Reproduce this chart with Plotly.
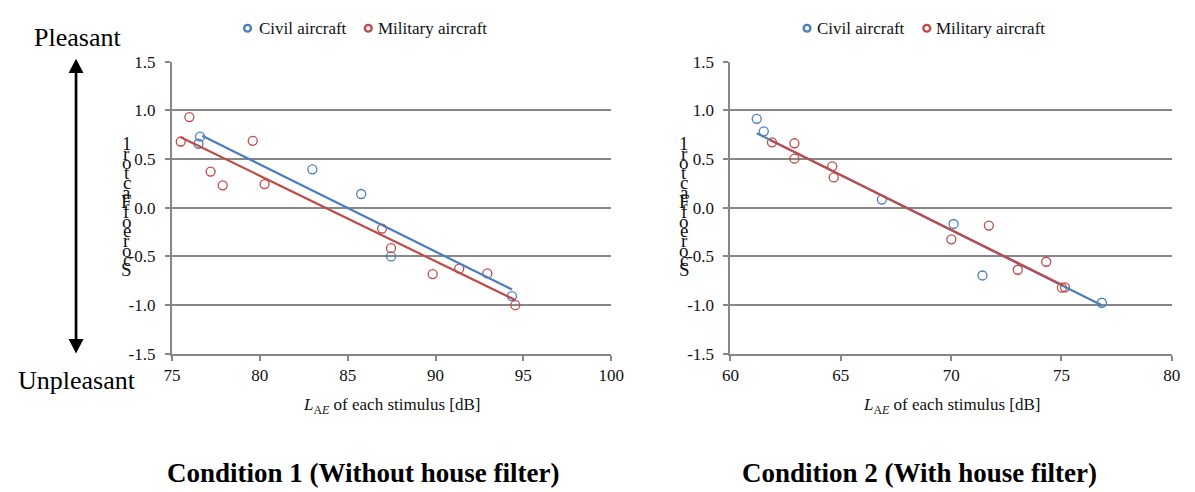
import plotly.graph_objects as go

W, H = 1195, 492
FONT = "Liberation Serif"
BLUE = "#4a7ebb"
RED = "#be4b48"
GRID = "#878787"

# ---------------- data ----------------
# Condition 1 (without house filter)
c1_civil_x = [76.60, 76.51, 82.99, 85.77, 87.47, 94.35]
c1_civil_y = [0.729, 0.656, 0.393, 0.140, -0.501, -0.910]
c1_mil_x = [75.50, 75.99, 77.20, 77.89, 79.60, 80.27, 86.96, 87.47, 89.84, 91.35, 92.95, 94.54]
c1_mil_y = [0.679, 0.930, 0.370, 0.229, 0.686, 0.242, -0.215, -0.417, -0.683, -0.627, -0.676, -1.002]
c1_civil_trend_x = [76.72, 94.35]
c1_civil_trend_y = [0.738, -0.841]
c1_mil_trend_x = [75.50, 94.54]
c1_mil_trend_y = [0.723, -0.950]

# Condition 2 (with house filter)
c2_civil_x = [61.19, 61.51, 66.86, 70.11, 71.42, 76.83]
c2_civil_y = [0.912, 0.784, 0.083, -0.168, -0.697, -0.977]
c2_mil_x = [61.88, 62.90, 62.90, 64.61, 64.68, 70.01, 71.71, 73.02, 74.31, 75.02, 75.16]
c2_mil_y = [0.671, 0.661, 0.503, 0.424, 0.310, -0.326, -0.184, -0.638, -0.556, -0.822, -0.819]
c2_civil_trend_x = [61.19, 76.83]
c2_civil_trend_y = [0.764, -1.003]
c2_mil_trend_x = [61.78, 75.08]
c2_mil_trend_y = [0.698, -0.800]

x1_ticks = [75, 80, 85, 90, 95, 100]
x2_ticks = [60, 65, 70, 75, 80]
y_ticks = [-1.5, -1.0, -0.5, 0.0, 0.5, 1.0, 1.5]
y_tick_text = ["-1.5", "-1.0", "-0.5", "0.0", "0.5", "1.0", "1.5"]

series_names = ["Civil aircraft", "Military aircraft"]
y_title = "Score of Factor 1"
x_title = "<i>L</i><sub>A<i>E</i></sub> of each stimulus [dB]"
panel_titles = ["Condition 1 (Without house filter)", "Condition 2 (With house filter)"]
pleasant_text = "Pleasant"
unpleasant_text = "Unpleasant"


def px(x):
    return x / W


def py(y):
    return 1 - y / H


fig = go.Figure()

marker_style = dict(symbol="circle-open", size=9, line=dict(width=1.3))

panels = [
    ("x", "y", c1_civil_x, c1_civil_y, c1_mil_x, c1_mil_y,
     c1_civil_trend_x, c1_civil_trend_y, c1_mil_trend_x, c1_mil_trend_y),
    ("x2", "y2", c2_civil_x, c2_civil_y, c2_mil_x, c2_mil_y,
     c2_civil_trend_x, c2_civil_trend_y, c2_mil_trend_x, c2_mil_trend_y),
]
for xa, ya, cx, cy, mx, my, ctx, cty, mtx, mty in panels:
    fig.add_trace(go.Scatter(x=cx, y=cy, mode="markers", xaxis=xa, yaxis=ya,
                             marker=dict(color=BLUE, **marker_style),
                             name=series_names[0], showlegend=False, cliponaxis=False))
    fig.add_trace(go.Scatter(x=mx, y=my, mode="markers", xaxis=xa, yaxis=ya,
                             marker=dict(color=RED, **marker_style),
                             name=series_names[1], showlegend=False, cliponaxis=False))
    fig.add_trace(go.Scatter(x=ctx, y=cty, mode="lines", xaxis=xa, yaxis=ya,
                             line=dict(color=BLUE, width=2.2), showlegend=False,
                             hoverinfo="skip"))
    fig.add_trace(go.Scatter(x=mtx, y=mty, mode="lines", xaxis=xa, yaxis=ya,
                             line=dict(color=RED, width=2.2), showlegend=False,
                             hoverinfo="skip"))

ydom = [py(358.5), py(54.7)]
common_x = dict(showgrid=False, zeroline=False, showline=True, linecolor=GRID, linewidth=2,
                ticks="outside", ticklen=5, tickwidth=2, tickcolor=GRID,
                tickfont=dict(family=FONT, size=17, color="#111"))
common_y = dict(range=[-1.5, 1.5], tickvals=y_ticks, ticktext=y_tick_text,
                showgrid=True, gridcolor=GRID, gridwidth=2, zeroline=False,
                showline=True, linecolor=GRID, linewidth=2,
                ticks="outside", ticklen=5, tickwidth=2, tickcolor=GRID,
                ticklabelstandoff=6,
                tickfont=dict(family=FONT, size=17, color="#111"))

fig.update_layout(
    width=W, height=H, autosize=False,
    margin=dict(l=0, r=0, t=0, b=0),
    paper_bgcolor="white", plot_bgcolor="white",
    font=dict(family=FONT, color="#111"),
    xaxis=dict(domain=[px(166), px(613.5)], range=[75, 100], tickvals=x1_ticks,
               ticktext=[str(v) for v in x1_ticks], anchor="y", **common_x),
    yaxis=dict(domain=ydom, anchor="x", **common_y),
    xaxis2=dict(domain=[px(735), px(1184.6)], range=[60, 80], tickvals=x2_ticks,
                ticktext=[str(v) for v in x2_ticks], anchor="y2", **common_x),
    yaxis2=dict(domain=ydom, anchor="x2", **common_y),
)

annotations = []
shapes = []

# x-axis titles
for cx in [(166 + 613.5) / 2, (735 + 1184.6) / 2]:
    annotations.append(dict(x=px(cx), y=py(413), xref="paper", yref="paper",
                            text=x_title, showarrow=False, xanchor="center", yanchor="middle",
                            font=dict(family=FONT, size=17, color="#111")))

# panel titles
for cx, t in zip([361.6, 927.6], panel_titles):
    annotations.append(dict(x=px(cx), y=py(483), xref="paper", yref="paper",
                            text="<b>" + t + "</b>", showarrow=False, xanchor="center",
                            yanchor="middle", font=dict(family=FONT, size=27, color="#000")))

# stacked (reversed) y-axis title letters
chars = [c for c in reversed(y_title) if c != " "]
n = len(chars)
for xc in [120, 688]:
    for i, c in enumerate(chars):
        yc = 140 + i * (271 - 140) / (n - 1)
        annotations.append(dict(x=px(xc), y=py(yc), xref="paper", yref="paper", text=c,
                                showarrow=False, xanchor="center", yanchor="middle",
                                font=dict(family=FONT, size=19, color="#111")))

# legends (marker ring + text)
legend_items = [
    (243, 253, BLUE, series_names[0]), (366, 374, RED, series_names[1]),
    (813, 821, BLUE, series_names[0]), (935, 942, RED, series_names[1]),
]
for mxp, tx, col, name in legend_items:
    shapes.append(dict(type="circle", xref="paper", yref="paper", xsizemode="pixel",
                       ysizemode="pixel", xanchor=px(mxp), yanchor=py(20),
                       x0=-3.4, x1=3.4, y0=-3.4, y1=3.4,
                       line=dict(color=col, width=2.4), fillcolor="rgba(0,0,0,0)"))
    annotations.append(dict(x=px(tx), y=py(20), xref="paper", yref="paper", text=name,
                            showarrow=False, xanchor="left", yanchor="middle",
                            font=dict(family=FONT, size=17, color="#111")))

# Pleasant / Unpleasant
annotations.append(dict(x=px(70), y=py(30), xref="paper", yref="paper", text=pleasant_text,
                        showarrow=False, xanchor="center", yanchor="middle",
                        font=dict(family=FONT, size=26, color="#000")))
annotations.append(dict(x=px(69), y=py(386), xref="paper", yref="paper", text=unpleasant_text,
                        showarrow=False, xanchor="center", yanchor="middle",
                        font=dict(family=FONT, size=26, color="#000")))

# double-headed arrow
ax = 68.3
shapes.append(dict(type="line", xref="paper", yref="paper", x0=px(ax), x1=px(ax),
                   y0=py(64), y1=py(346), line=dict(color="black", width=2.7)))
shapes.append(dict(type="path", xref="paper", yref="paper",
                   path=f"M {px(ax)} {py(51.7)} L {px(ax - 7.6)} {py(66.7)} L {px(ax + 7.6)} {py(66.7)} Z",
                   fillcolor="black", line=dict(color="black", width=0)))
shapes.append(dict(type="path", xref="paper", yref="paper",
                   path=f"M {px(ax)} {py(358.3)} L {px(ax - 7.6)} {py(343.3)} L {px(ax + 7.6)} {py(343.3)} Z",
                   fillcolor="black", line=dict(color="black", width=0)))

fig.update_layout(annotations=annotations, shapes=shapes)

fig.write_html(
    "out.html",
    config={"displayModeBar": False},
    post_script="document.body.style.margin='0';document.body.style.padding='0';"
                "document.body.style.overflow='hidden';",
)
